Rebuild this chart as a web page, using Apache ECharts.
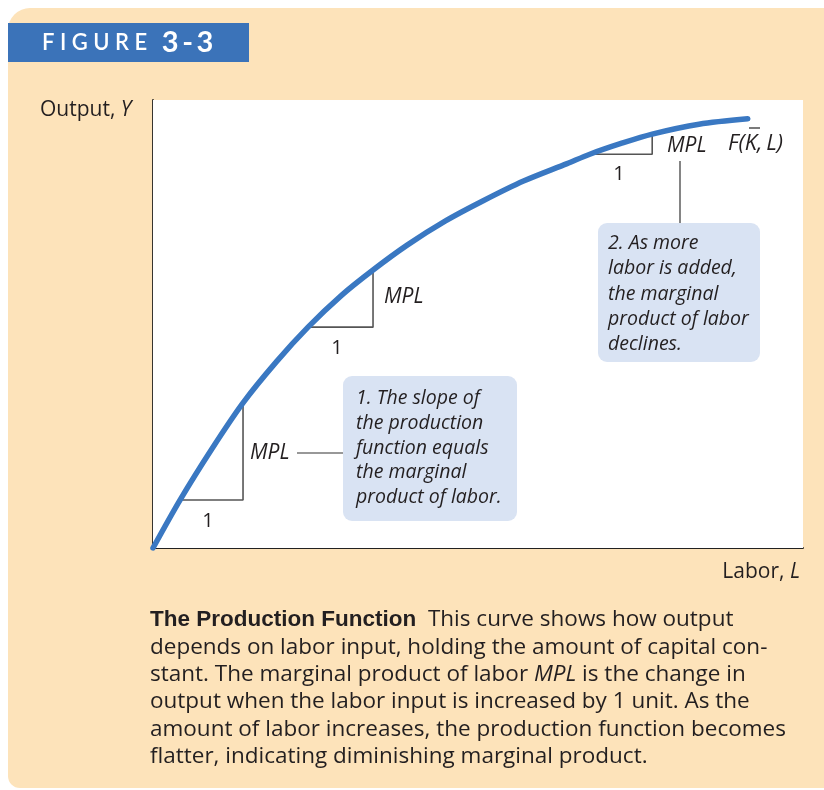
<!DOCTYPE html>
<html><head><meta charset="utf-8">
<script src="https://cdn.jsdelivr.net/npm/echarts@6/dist/echarts.min.js"></script>
<style>html,body{margin:0;padding:0;background:#fff}#c{width:824px;height:790px}</style>
</head><body><div id="c"></div>
<script>
// Production function curve
const laborL  = [0, 4.15, 9, 13.85, 19, 23.85, 29, 33.85, 39.1, 45, 50.8, 57, 63.7, 67.2, 72, 76.8, 84, 91.5];
const outputY = [0, 10.7, 22, 32.4, 41.6, 49.3, 56.4, 62.05, 67.6, 73, 77.5, 81.9, 85.8, 87.9, 90.3, 92.4, 94.6, 95.8];
// MPL triangles: [left x, right x, base y, top y]
const tri1 = [4.15, 13.85, 10.7, 32.4];
const tri2 = [23.85, 33.85, 49.3, 62.05];
const tri3 = [67.2, 76.8, 87.9, 92.4];
const xRange = [0, 100];
const yRange = [0, 100];

const curve = laborL.map((x, i) => [x, outputY[i]]);
const triPts = t => [[t[0], t[2]], [t[1], t[2]], [t[1], t[3]]];

const INK = '#231f20';
const FONT = '"Open Sans"';
function txt(x, y, text, font, extra) {
  return {type: 'text', z: 100, style: Object.assign({x, y, text, font, fill: INK, align: 'left', verticalAlign: 'middle'}, extra || {})};
}
function line(x1, y1, x2, y2, w) {
  return {type: 'line', z: 100, shape: {x1, y1, x2, y2}, style: {stroke: '#333', lineWidth: w || 1.2}};
}

const chart = echarts.init(document.getElementById('c'));
const triStyle = {color: '#555', width: 1.6};
chart.setOption({
  animation: false,
  backgroundColor: '#fff',
  grid: {left: 153, top: 100, width: 650, height: 448, show: true, backgroundColor: '#fff', borderWidth: 0, z: 2},
  xAxis: {type: 'value', min: xRange[0], max: xRange[1], axisLine: {show: true, onZero: false, lineStyle: {color: '#222', width: 1.8}},
          axisTick: {show: false}, axisLabel: {show: false}, splitLine: {show: false}},
  yAxis: {type: 'value', min: yRange[0], max: yRange[1], axisLine: {show: true, onZero: false, lineStyle: {color: '#222', width: 1.8}},
          axisTick: {show: false}, axisLabel: {show: false}, splitLine: {show: false}},
  series: [
    {type: 'line', data: triPts(tri1), symbol: 'none', lineStyle: triStyle, z: 3},
    {type: 'line', data: triPts(tri2), symbol: 'none', lineStyle: triStyle, z: 3},
    {type: 'line', data: triPts(tri3), symbol: 'none', lineStyle: triStyle, z: 3},
    {type: 'line', data: curve, smooth: 0.3, symbol: 'none', lineStyle: {color: '#3a78c2', width: 5.5, cap: 'round'}, z: 5}
  ],
  graphic: [
    {type: 'rect', z: -10, shape: {x: 8, y: 8, width: 840, height: 780, r: [22, 0, 0, 12]}, style: {fill: '#fde3ba'}},
    {type: 'rect', z: 50, shape: {x: 8, y: 23, width: 241, height: 39}, style: {fill: '#3b73b9'}},
    {type: 'text', z: 60, style: {x: 42, y: 43, verticalAlign: 'middle', align: 'left',
      text: '{a|F\u2005I\u2005G\u2005U\u2005R\u2005E}{b|\u20023\u2009-\u20093}',
      rich: {a: {font: '600 22px Lato', fill: '#fff'}, b: {font: 'bold 29px Lato', fill: '#fff'}}}},
    // axis titles
    {type: 'text', z: 60, style: {x: 40, y: 110, verticalAlign: 'middle', align: 'left',
      text: '{r|Output, }{i|Y}', rich: {r: {font: '21px ' + FONT, fill: INK}, i: {font: 'italic 21px ' + FONT, fill: INK}}}},
    {type: 'text', z: 60, style: {x: 800, y: 572, verticalAlign: 'middle', align: 'right',
      text: '{r|Labor, }{i|L}', rich: {r: {font: '21px ' + FONT, fill: INK}, i: {font: 'italic 21px ' + FONT, fill: INK}}}},
    // triangle labels
    txt(250, 453, 'MPL', 'italic 21px ' + FONT),
    line(297, 453, 343, 453),
    txt(208, 521, '1', '20px ' + FONT, {align: 'center'}),
    txt(384, 297, 'MPL', 'italic 21px ' + FONT),
    txt(337, 348, '1', '20px ' + FONT, {align: 'center'}),
    txt(667, 146, 'MPL', 'italic 21px ' + FONT),
    txt(619, 174, '1', '20px ' + FONT, {align: 'center'}),
    line(680, 161, 680, 223),
    txt(728, 144, 'F(K,\u2009L)', 'italic 22px ' + FONT),
    line(749, 128, 760, 128, 1.3),
    // annotation boxes
    {type: 'rect', z: 80, shape: {x: 343, y: 376, width: 174, height: 145, r: 9}, style: {fill: '#d9e3f3'}},
    {type: 'text', z: 100, style: {x: 356, y: 386, verticalAlign: 'top', align: 'left', font: 'italic 19.5px ' + FONT, fill: INK, lineHeight: 24.8,
      text: '1. The slope of\nthe production\nfunction equals\nthe marginal\nproduct of labor.'}},
    {type: 'rect', z: 80, shape: {x: 598, y: 223, width: 162, height: 139, r: 9}, style: {fill: '#d9e3f3'}},
    {type: 'text', z: 100, style: {x: 608, y: 231, verticalAlign: 'top', align: 'left', font: 'italic 19.5px ' + FONT, fill: INK, lineHeight: 25.2,
      text: '2. As more\nlabor is added,\nthe marginal\nproduct of labor\ndeclines.'}},
    // caption
    {type: 'text', z: 100, style: {x: 150, y: 606, verticalAlign: 'top', align: 'left', font: '22.5px ' + FONT, fill: INK, lineHeight: 27.4,
      text: '{b|The Production Function}  This curve shows how output\ndepends on labor input, holding the amount of capital con-\nstant. The marginal product of labor {i|MPL} is the change in\noutput when the labor input is increased by 1 unit. As the\namount of labor increases, the production function becomes\nflatter, indicating diminishing marginal product.',
      rich: {b: {font: 'bold 22.5px "Liberation Sans"', fill: INK, lineHeight: 27.4}, i: {font: 'italic 22.5px ' + FONT, fill: INK, lineHeight: 27.4}}}}
  ]
});
</script></body></html>
